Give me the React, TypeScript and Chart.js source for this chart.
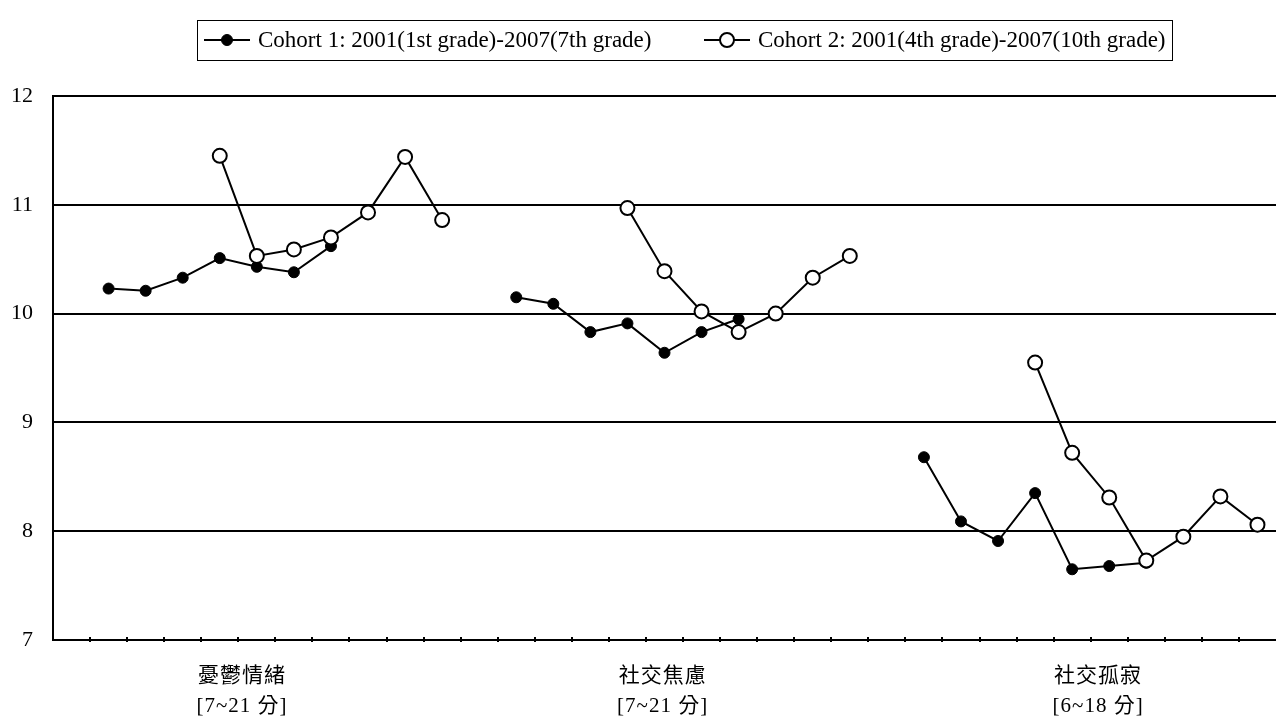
import React, { useEffect, useRef } from "react";
import { Chart, registerables } from "chart.js";

Chart.register(...registerables);

// ---------- data ----------
const categoryCount = 33; // slots on the category axis (3 groups, gaps between)
const categories: string[] = Array.from({ length: categoryCount }, (_, i) => `${i}`);

const seriesNames = [
  "Cohort 1: 2001(1st grade)-2007(7th grade)",
  "Cohort 2: 2001(4th grade)-2007(10th grade)",
];

const groupNames = ["憂鬱情緒", "社交焦慮", "社交孤寂"];
const groupRanges = ["[7~21 分]", "[7~21 分]", "[6~18 分]"];

// yearly means 2001..2007, per scale
const cohort1Depression = [10.23, 10.21, 10.33, 10.51, 10.43, 10.38, 10.62];
const cohort2Depression = [11.45, 10.53, 10.59, 10.7, 10.93, 11.44, 10.86];
const cohort1Anxiety = [10.15, 10.09, 9.83, 9.91, 9.64, 9.83, 9.95];
const cohort2Anxiety = [10.97, 10.39, 10.02, 9.83, 10.0, 10.33, 10.53];
const cohort1Loneliness = [8.68, 8.09, 7.91, 8.35, 7.65, 7.68, 7.71];
const cohort2Loneliness = [9.55, 8.72, 8.31, 7.73, 7.95, 8.32, 8.06];

// first slot of each group on the category axis
const cohort1GroupStart = [1, 12, 23];
const cohort2GroupStart = [4, 15, 26];

const yMin = 7;
const yMax = 12;
const yStep = 1;

// ---------- layout constants ----------
const W = 1276;
const H = 722;
const groupLabelSlot = [4.6, 15.95, 27.7];

function place(groups: number[][], starts: number[]): (number | null)[] {
  const out: (number | null)[] = new Array(categoryCount).fill(null);
  groups.forEach((g, gi) => {
    g.forEach((v, i) => {
      out[starts[gi] + i] = v;
    });
  });
  return out;
}

const cohort1Data = place([cohort1Depression, cohort1Anxiety, cohort1Loneliness], cohort1GroupStart);
const cohort2Data = place([cohort2Depression, cohort2Anxiety, cohort2Loneliness], cohort2GroupStart);

const SERIF = '"Liberation Serif", "Times New Roman", serif';
const CJK = '"Liberation Serif", "Noto Sans CJK TC", serif';

const extrasPlugin = {
  id: "extras",
  afterDraw(chart: any) {
    const { ctx, chartArea, scales } = chart;
    const xs = scales.x;
    ctx.save();
    // category boundary tick marks on x axis
    ctx.strokeStyle = "#000";
    ctx.lineWidth = 2;
    for (let i = 1; i < categoryCount; i++) {
      const x = Math.round(xs.getPixelForValue(i - 0.5));
      ctx.beginPath();
      ctx.moveTo(x, chartArea.bottom - 3);
      ctx.lineTo(x, chartArea.bottom + 2);
      ctx.stroke();
    }

    // group labels
    ctx.fillStyle = "#000";
    ctx.textAlign = "center";
    ctx.textBaseline = "middle";
    ctx.font = `21px ${CJK}`;
    (ctx as any).letterSpacing = "1px";
    groupNames.forEach((name, gi) => {
      const x = xs.getPixelForValue(groupLabelSlot[gi]);
      ctx.fillText(name, x, 676);
      ctx.fillText(groupRanges[gi], x, 706);
    });
    (ctx as any).letterSpacing = "0px";

    // legend box
    ctx.lineWidth = 1;
    ctx.strokeStyle = "#000";
    ctx.strokeRect(197.5, 20.5, 975, 40);
    const items = [
      { x: 204, text: 258 },
      { x: 704, text: 758 },
    ];
    chart.data.datasets.forEach((ds: any, di: number) => {
      const it = items[di];
      const cy = 40;
      ctx.lineWidth = 2;
      ctx.strokeStyle = ds.borderColor;
      ctx.beginPath();
      ctx.moveTo(it.x, cy);
      ctx.lineTo(it.x + 46, cy);
      ctx.stroke();
      ctx.beginPath();
      ctx.arc(it.x + 23, cy, ds.pointRadius, 0, Math.PI * 2);
      ctx.fillStyle = ds.pointBackgroundColor;
      ctx.fill();
      ctx.lineWidth = ds.pointBorderWidth;
      ctx.strokeStyle = ds.pointBorderColor;
      ctx.stroke();
      ctx.fillStyle = "#000";
      ctx.textAlign = "left";
      ctx.textBaseline = "middle";
      ctx.font = `23px ${SERIF}`;
      ctx.fillText(ds.label, it.text, cy + 1);
    });
    ctx.restore();
  },
};

export default function App() {
  const ref = useRef<HTMLCanvasElement | null>(null);
  useEffect(() => {
    if (!ref.current) return;
    const chart = new Chart(ref.current, {
      type: "line",
      data: {
        labels: categories,
        datasets: [
          {
            label: seriesNames[0],
            data: cohort1Data,
            borderColor: "#000",
            borderWidth: 2,
            pointRadius: 5.5,
            pointBackgroundColor: "#000",
            pointBorderColor: "#000",
            pointBorderWidth: 1,
            spanGaps: false,
            tension: 0,
            order: 1,
          },
          {
            label: seriesNames[1],
            data: cohort2Data,
            borderColor: "#000",
            borderWidth: 2,
            pointRadius: 7,
            pointBackgroundColor: "#fff",
            pointBorderColor: "#000",
            pointBorderWidth: 2,
            spanGaps: false,
            tension: 0,
            order: 0,
          },
        ],
      },
      options: {
        responsive: false,
        animation: false,
        layout: { autoPadding: false, padding: { top: 96, right: 0, left: 0, bottom: 0 } },
        plugins: {
          legend: { display: false },
          tooltip: { enabled: false },
          title: { display: false },
        },
        scales: {
          x: {
            type: "category",
            offset: true,
            grid: { display: false },
            border: { display: true, color: "#000", width: 2 },
            ticks: { display: false },
            afterFit: (s: any) => {
              s.height = 82;
            },
          },
          y: {
            min: yMin,
            max: yMax,
            ticks: {
              stepSize: yStep,
              color: "#000",
              padding: 20,
              font: { family: SERIF, size: 22 },
            },
            grid: { color: "#000", lineWidth: 2, drawTicks: false },
            border: { display: true, color: "#000", width: 2 },
            afterFit: (s: any) => {
              s.width = 53;
            },
          },
        },
      },
      plugins: [extrasPlugin],
    });
    return () => chart.destroy();
  }, []);
  return (
    <div style={{ position: "absolute", left: 0, top: 0, width: W, height: H, background: "#fff" }}>
      <canvas ref={ref} width={W} height={H} style={{ display: "block" }} />
    </div>
  );
}
